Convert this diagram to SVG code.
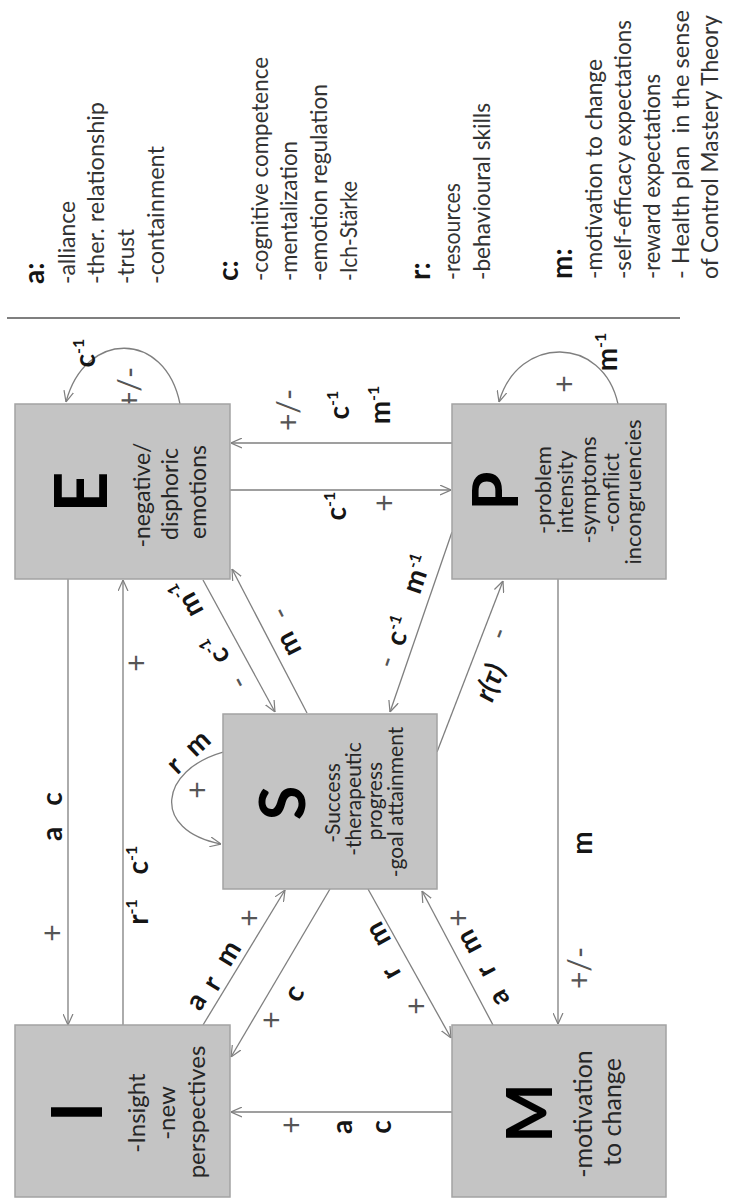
<svg xmlns="http://www.w3.org/2000/svg" width="731" height="1199" viewBox="0 0 731 1199">
<style>
text{font-family:Lato,"Liberation Sans",sans-serif}
.box{fill:#c4c4c4;stroke:#a3a3a3;stroke-width:1.5}
.big{font-weight:700;fill:#000;text-anchor:middle}
.sub{fill:#262626;text-anchor:middle}
.lbl{font-weight:700;font-size:28px;fill:#151515;text-anchor:middle}
.sgn{font-size:30px;fill:#555;text-anchor:middle}
.lg{font-size:24px;fill:#333}
.lgh{font-size:28px;font-weight:700;fill:#151515}
.ln{stroke:#7f7f7f;stroke-width:1.3;fill:none;marker-end:url(#ah)}
.sup{font-size:16px}
</style>
<defs>
<marker id="ah" viewBox="0 0 10 10" refX="10" refY="5" markerWidth="11" markerHeight="11" orient="auto" markerUnits="userSpaceOnUse">
<path d="M0,0.5 L10,5 L0,9.5" fill="none" stroke="#7f7f7f" stroke-width="1.1"/>
</marker>
</defs>
<rect width="731" height="1199" fill="#fff"/>

<g id="legend">
<line x1="7" y1="318" x2="680" y2="318" stroke="#555" stroke-width="1.5"/>
<text class="lgh" transform="translate(44,284) rotate(-90)">a:</text>
<text class="lg" transform="translate(75,284) rotate(-90)" textLength="83" lengthAdjust="spacingAndGlyphs">-alliance</text>
<text class="lg" transform="translate(104,284) rotate(-90)" textLength="182" lengthAdjust="spacingAndGlyphs">-ther. relationship</text>
<text class="lg" transform="translate(134,284) rotate(-90)" textLength="55" lengthAdjust="spacingAndGlyphs">-trust</text>
<text class="lg" transform="translate(164,284) rotate(-90)" textLength="138" lengthAdjust="spacingAndGlyphs">-containment</text>
<text class="lgh" transform="translate(238,281) rotate(-90)">c:</text>
<text class="lg" transform="translate(268,281) rotate(-90)" textLength="224" lengthAdjust="spacingAndGlyphs">-cognitive competence</text>
<text class="lg" transform="translate(297,281) rotate(-90)" textLength="140" lengthAdjust="spacingAndGlyphs">-mentalization</text>
<text class="lg" transform="translate(327,281) rotate(-90)" textLength="197" lengthAdjust="spacingAndGlyphs">-emotion regulation</text>
<text class="lg" transform="translate(357,281) rotate(-90)" textLength="100" lengthAdjust="spacingAndGlyphs">-Ich-Stärke</text>
<text class="lgh" transform="translate(430,280) rotate(-90)">r:</text>
<text class="lg" transform="translate(460,280) rotate(-90)" textLength="97" lengthAdjust="spacingAndGlyphs">-resources</text>
<text class="lg" transform="translate(490,280) rotate(-90)" textLength="177" lengthAdjust="spacingAndGlyphs">-behavioural skills</text>
<text class="lgh" transform="translate(572,279) rotate(-90)">m:</text>
<text class="lg" transform="translate(602,279) rotate(-90)" textLength="220" lengthAdjust="spacingAndGlyphs">-motivation to change</text>
<text class="lg" transform="translate(631,279) rotate(-90)" textLength="259" lengthAdjust="spacingAndGlyphs">-self-efficacy expectations</text>
<text class="lg" transform="translate(660,279) rotate(-90)" textLength="205" lengthAdjust="spacingAndGlyphs">-reward expectations</text>
<text class="lg" transform="translate(689,279) rotate(-90)" textLength="269" lengthAdjust="spacingAndGlyphs" xml:space="preserve">- Health plan  in the sense</text>
<text class="lg" transform="translate(718,279) rotate(-90)" textLength="264" lengthAdjust="spacingAndGlyphs">of Control Mastery Theory</text>
</g>

<g id="connectors">
<line class="ln" x1="68" y1="579" x2="68" y2="1025"/>
<line class="ln" x1="123" y1="1025" x2="123" y2="580"/>
<line class="ln" x1="452" y1="443" x2="231" y2="443"/>
<line class="ln" x1="230" y1="490" x2="451" y2="490"/>
<path class="ln" d="M180,404 C165,330 85,330 66,402"/>
<path class="ln" d="M618,404 C603,335 518,335 499,402"/>
<line class="ln" x1="203" y1="580" x2="275" y2="712"/>
<line class="ln" x1="307" y1="713" x2="232" y2="569"/>
<line class="ln" x1="452" y1="532" x2="390" y2="712"/>
<line class="ln" x1="437" y1="752" x2="503" y2="581"/>
<line class="ln" x1="203" y1="1025" x2="285" y2="890"/>
<line class="ln" x1="330" y1="889" x2="231" y2="1057"/>
<line class="ln" x1="368" y1="889" x2="451" y2="1038"/>
<line class="ln" x1="493" y1="1025" x2="422" y2="891"/>
<line class="ln" x1="452" y1="1112" x2="231" y2="1112"/>
<line class="ln" x1="558" y1="579" x2="558" y2="1024"/>
<path class="ln" d="M223,752 C160,770 150,830 221,844"/>

<text class="sgn" transform="translate(63,933) rotate(-90)">+</text>
<text class="lbl" transform="translate(62,834) rotate(-90)">a</text>
<text class="lbl" transform="translate(62,799) rotate(-90)">c</text>

<text class="sgn" transform="translate(147,663) rotate(-90)">+</text>
<text class="lbl" transform="translate(148,912) rotate(-90)">r<tspan class="sup" dy="-11">-1</tspan></text>
<text class="lbl" transform="translate(148,860) rotate(-90)">c<tspan class="sup" dy="-11">-1</tspan></text>

<text class="sgn" transform="translate(299,410) rotate(-90)">+/-</text>
<text class="lbl" transform="translate(349,405) rotate(-90)">c<tspan class="sup" dy="-11">-1</tspan></text>
<text class="lbl" transform="translate(390,405) rotate(-90)">m<tspan class="sup" dy="-11">-1</tspan></text>

<text class="lbl" transform="translate(346,506) rotate(-90)">c<tspan class="sup" dy="-11">-1</tspan></text>
<text class="sgn" transform="translate(395,503) rotate(-90)">+</text>

<text class="lbl" transform="translate(95,353) rotate(-90)">c<tspan class="sup" dy="-11">-1</tspan></text>
<text class="sgn" transform="translate(140,388) rotate(-90)">+/-</text>

<text class="lbl" transform="translate(617,352) rotate(-90)">m<tspan class="sup" dy="-11">-1</tspan></text>
<text class="sgn" transform="translate(575,384) rotate(-90)">+</text>

<text class="lbl" transform="translate(592,843) rotate(-90)">m</text>
<text class="sgn" transform="translate(590,968) rotate(-90)">+/-</text>

<text class="sgn" transform="translate(302,1125) rotate(-90)">+</text>
<text class="lbl" transform="translate(352,1127) rotate(-90)">a</text>
<text class="lbl" transform="translate(391,1127) rotate(-90)">c</text>

<text class="lbl" transform="translate(224,645) rotate(-118.4)">c<tspan class="sup" dy="-11">-1</tspan></text>
<text class="lbl" transform="translate(195,594) rotate(-118.4)">m<tspan class="sup" dy="-11">-1</tspan></text>
<text class="sgn" transform="translate(247,678) rotate(-118.4)">-</text>

<text class="lbl" transform="translate(297,640) rotate(-117.3)">m</text>
<text class="sgn" transform="translate(289,609) rotate(-117.3)">-</text>

<text class="sgn" transform="translate(396,665) rotate(-71)">-</text>
<text class="lbl" transform="translate(408,634) rotate(-71)">c<tspan class="sup" dy="-11">-1</tspan></text>
<text class="lbl" transform="translate(426,577) rotate(-71)">m<tspan class="sup" dy="-11">-1</tspan></text>

<text class="lbl" font-style="italic" transform="translate(499,686) rotate(-68.9)">r(τ)</text>
<text class="sgn" transform="translate(508,637) rotate(-68.9)">-</text>

<text class="lbl" transform="translate(204,1006) rotate(-58.7)">a</text>
<text class="lbl" transform="translate(220,988) rotate(-58.7)">r</text>
<text class="lbl" transform="translate(236,958) rotate(-58.7)">m</text>
<text class="sgn" transform="translate(260,918) rotate(-90)">+</text>

<text class="lbl" transform="translate(302,998) rotate(-59.5)">c</text>
<text class="sgn" transform="translate(282,1020) rotate(-90)">+</text>

<text class="lbl" transform="translate(386,930) rotate(-119.1)">m</text>
<text class="lbl" transform="translate(399,969) rotate(-119.1)">r</text>
<text class="sgn" transform="translate(427,1006) rotate(-90)">+</text>

<text class="lbl" transform="translate(507,994) rotate(-117.9)">a</text>
<text class="lbl" transform="translate(494,967) rotate(-117.9)">r</text>
<text class="lbl" transform="translate(477,938) rotate(-117.9)">m</text>
<text class="sgn" transform="translate(469,918) rotate(-90)">+</text>

<text class="lbl" transform="translate(181,772) rotate(-43.7)">r</text>
<text class="lbl" transform="translate(204,750) rotate(-43.7)">m</text>
<text class="sgn" transform="translate(208,790) rotate(-90)">+</text>
</g>

<g id="node-E">
<rect class="box" x="15" y="404" width="215" height="175"/>
<text class="big" font-size="72" transform="translate(107,492) rotate(-90)">E</text>
<text class="sub" font-size="23" transform="translate(150,495) rotate(-90)">-negative/</text>
<text class="sub" font-size="23" transform="translate(178,494) rotate(-90)">disphoric</text>
<text class="sub" font-size="23" transform="translate(206,492) rotate(-90)">emotions</text>
</g>

<g id="node-I">
<rect class="box" x="15" y="1025" width="215" height="172"/>
<text class="big" font-size="71" transform="translate(102,1112) rotate(-90)">I</text>
<text class="sub" font-size="24" transform="translate(145,1113) rotate(-90)">-Insight</text>
<text class="sub" font-size="24" transform="translate(175,1113) rotate(-90)">-new</text>
<text class="sub" font-size="24" transform="translate(205,1112) rotate(-90)">perspectives</text>
</g>

<g id="node-S">
<rect class="box" x="223" y="714" width="214" height="175"/>
<text class="big" font-size="63" transform="translate(305,803) rotate(-90)">S</text>
<text class="sub" font-size="21" transform="translate(340,803) rotate(-90)">-Success</text>
<text class="sub" font-size="21" transform="translate(361,799) rotate(-90)">-therapeutic</text>
<text class="sub" font-size="21" transform="translate(382,801) rotate(-90)">progress</text>
<text class="sub" font-size="21" transform="translate(403,802) rotate(-90)">-goal attainment</text>
</g>

<g id="node-P">
<rect class="box" x="452" y="404" width="214" height="175"/>
<text class="big" font-size="63" transform="translate(518,491) rotate(-90)">P</text>
<text class="sub" font-size="22" transform="translate(551,490) rotate(-90)">-problem</text>
<text class="sub" font-size="22" transform="translate(573,492) rotate(-90)">intensity</text>
<text class="sub" font-size="22" transform="translate(596,490) rotate(-90)">-symptoms</text>
<text class="sub" font-size="22" transform="translate(619,493) rotate(-90)">-conflict</text>
<text class="sub" font-size="22" transform="translate(641,492) rotate(-90)">incongruencies</text>
</g>

<g id="node-M">
<rect class="box" x="452" y="1025" width="214" height="172"/>
<text class="big" font-size="63" transform="translate(552,1113) rotate(-90)">M</text>
<text class="sub" font-size="25" transform="translate(592,1114) rotate(-90)">-motivation</text>
<text class="sub" font-size="25" transform="translate(621,1112) rotate(-90)">to change</text>
</g>
</svg>
